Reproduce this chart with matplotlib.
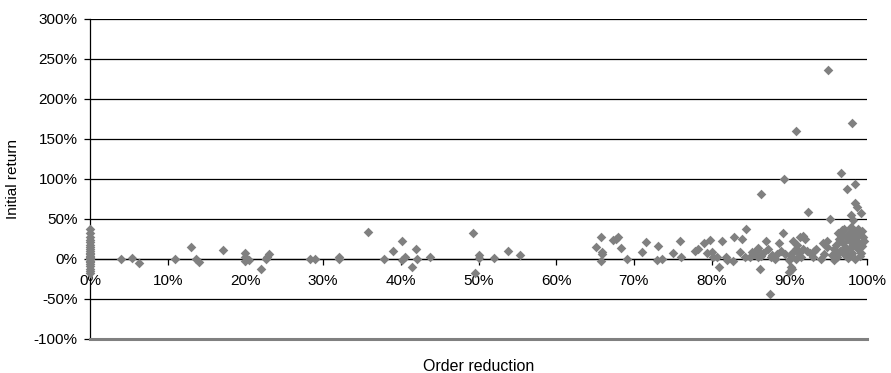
import matplotlib

matplotlib.use("Agg")
import matplotlib.pyplot as plt
from matplotlib.ticker import FuncFormatter, MultipleLocator

plt.rcParams["font.family"] = ["Liberation Sans", "DejaVu Sans"]

# order reduction (%) and initial return (%)
zero_y = [38, 33, 28, 24, 21, 18, 15, 12, 10, 8, 6, 4, 2, 1, 0, -2, -4, -6, -9, -12, -15, -18]
zero_x = [0] * len(zero_y)

low_x = [4.0, 5.4, 6.3, 10.9, 13.0, 13.7, 14.0, 17.1, 19.9, 20.0, 20.4, 20.0, 22.0, 22.6, 23.0, 22.8,
         28.3, 29.0, 32.1, 32.1, 35.8, 37.8, 39.0, 40.1, 40.2, 40.6, 41.5, 41.9, 42.1, 43.8,
         49.3, 49.6, 50.1, 50.1, 52.0, 53.8, 55.4]
low_y = [0, 1, -5, 0, 15, 0, -4, 11, 8, 2, -1, -3, -12, 0, 6, 3,
         0, 0, 2, 0, 34, 0, 10, 22, -1, 3, -10, 12, 0, 3,
         33, -17, 5, 1, 1, 10, 5]

mid_x = [65.1, 65.8, 65.9, 65.9, 65.8, 67.3, 67.7, 68.0, 68.3, 69.1, 71.0, 71.6, 73.1, 73.0, 73.6,
         75.0, 75.9, 76.1, 77.9, 78.3, 79.0, 79.8, 79.4, 80.0, 80.2, 80.7, 81.0, 81.4, 81.9, 82.0,
         82.8, 82.9, 83.9, 83.7, 84.4, 84.3]
mid_y = [15, 27, 9, 6, -2, 24, 25, 27, 14, 0, 9, 21, 16, -1, 0,
         8, 23, 2, 10, 13, 20, 24, 7, 9, 3, 2, -10, 22, 2, -1,
         -3, 28, 25, 9, 37, 3]

high_x = [85.0, 85.2, 85.5, 85.8, 86.0, 86.0, 86.4, 86.2, 86.4, 86.6, 87.0, 87.2, 87.5, 87.6, 87.8,
          88.2, 88.4, 88.7, 88.9, 89.2, 89.3, 89.5, 89.9, 89.9, 90.1, 90.2, 90.3, 90.4, 90.5, 90.6,
          90.8, 90.9, 90.9, 91.0, 91.2, 91.4, 91.5, 91.8, 91.8, 92.0, 92.3, 92.4, 92.6, 93.0, 93.2,
          93.5, 94.1, 94.4, 94.5, 94.8, 94.9, 95.0, 95.2]
high_y = [3, 9, 6, 11, 2, 14, 81, -12, 4, 8, 23, 12, -44, 2, 5,
          0, 6, 20, 10, 33, 100, 6, -1, -16, 5, -10, -12, 2, 22, 10,
          0, 13, 160, 18, 7, 28, 3, 29, 12, 25, 10, 59, 8, 2, 10,
          12, 0, 20, 6, 15, 22, 236, 50]

top_x = [95.5, 95.7, 95.8, 96.0, 96.1, 96.2, 96.3, 96.4, 96.5, 96.6, 96.7, 96.8, 96.9, 97.0, 97.1,
         97.2, 97.3, 97.4, 97.4, 97.5, 97.6, 97.7, 97.8, 97.9, 98.0, 98.0, 98.1, 98.1, 98.2, 98.2,
         98.3, 98.4, 98.4, 98.5, 98.5, 98.6, 98.7, 98.8, 98.9, 98.9, 99.0, 99.1, 99.2, 99.2, 99.3,
         99.4, 99.5, 99.6]
top_y = [5, -1, 12, 18, 9, 3, 32, 25, 10, 107, 30, 36, 20, 6, 38,
         15, 28, 87, 12, 2, 1, 33, 22, 15, 55, 40, 170, 8, 49, 27,
         18, 94, 35, 70, 0, 24, 65, 12, 38, 30, 20, 4, 58, 7, 16,
         35, 28, 22]

x_vals = zero_x + low_x + mid_x + high_x + top_x
y_vals = zero_y + low_y + mid_y + high_y + top_y

fig = plt.figure(figsize=(8.91, 3.73), dpi=100)
ax = fig.add_axes([90 / 891, 34 / 373, 777 / 891, 320 / 373])

ax.scatter(x_vals, y_vals, marker="D", s=24, color="#808080", linewidths=0, zorder=4, clip_on=False)

ax.set_xlim(0, 100)
ax.set_ylim(-100, 300)
ax.yaxis.set_major_locator(MultipleLocator(50))
ax.xaxis.set_major_locator(MultipleLocator(10))
ax.yaxis.set_major_formatter(FuncFormatter(lambda v, _: f"{v:.0f}%"))
ax.xaxis.set_major_formatter(FuncFormatter(lambda v, _: f"{v:.0f}%"))

ax.grid(axis="y", color="black", linewidth=0.9, zorder=1)
ax.set_axisbelow(True)
ax.axhline(-100, color="#808080", linewidth=2.2, zorder=3, clip_on=False)

ax.spines["top"].set_visible(False)
ax.spines["right"].set_visible(False)
ax.spines["left"].set_linewidth(0.9)
ax.spines["bottom"].set_position(("data", 0))
ax.spines["bottom"].set_linewidth(0.9)

ax.tick_params(axis="y", direction="out", length=4, width=0.9, pad=5, labelsize=11)
ax.tick_params(axis="x", direction="out", length=4, width=0.9, pad=7, labelsize=11)

ax.set_ylabel("Initial return", fontsize=11, labelpad=10)
ax.set_xlabel("Order reduction", fontsize=11.5)
ax.xaxis.set_label_coords(0.5, -0.062)

fig.savefig("out.png", dpi=100)
